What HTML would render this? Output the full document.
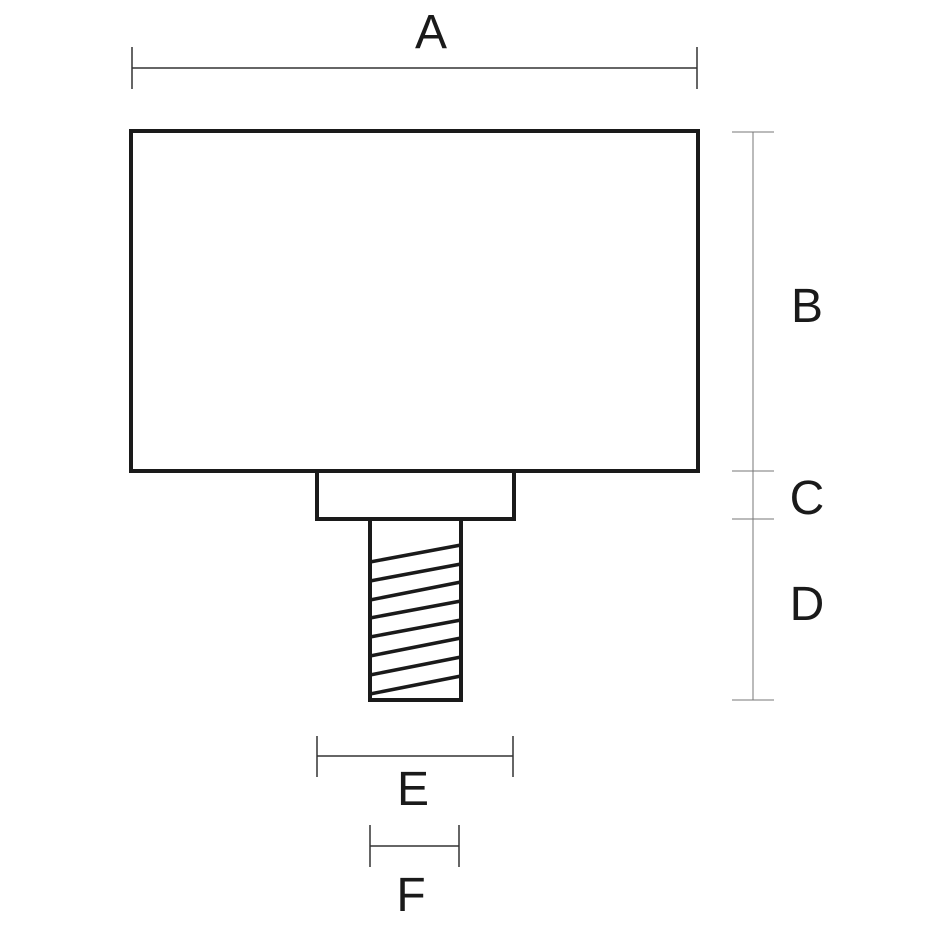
<!DOCTYPE html>
<html><head><style>html,body{margin:0;padding:0;background:#fff;}svg{display:block}</style></head>
<body>
<svg width="925" height="933" viewBox="0 0 925 933" xmlns="http://www.w3.org/2000/svg">
<g fill="none" stroke="#1a1a1a">
<rect x="131" y="131" width="567" height="340" stroke-width="4"/>
<rect x="317" y="471" width="197" height="48" stroke-width="4"/>
<rect x="370" y="519" width="91" height="181" stroke-width="4"/>
<g stroke-width="3.5">
<line x1="370" y1="562" x2="461" y2="545"/>
<line x1="370" y1="581" x2="461" y2="564"/>
<line x1="370" y1="600" x2="461" y2="582"/>
<line x1="370" y1="618" x2="461" y2="601"/>
<line x1="370" y1="637" x2="461" y2="620"/>
<line x1="370" y1="656" x2="461" y2="638"/>
<line x1="370" y1="675" x2="461" y2="657"/>
<line x1="370" y1="694" x2="461" y2="676"/>
</g>
<g stroke-width="1.5" stroke="#333">
<line x1="132" y1="68" x2="697" y2="68"/>
<line x1="132" y1="47" x2="132" y2="89"/>
<line x1="697" y1="47" x2="697" y2="89"/>
<line x1="317" y1="756" x2="513" y2="756"/>
<line x1="317" y1="736" x2="317" y2="777"/>
<line x1="513" y1="736" x2="513" y2="777"/>
<line x1="370" y1="846" x2="459" y2="846"/>
<line x1="370" y1="825" x2="370" y2="867"/>
<line x1="459" y1="825" x2="459" y2="867"/>
</g>
<g stroke-width="1" stroke="#777">
<line x1="753" y1="132" x2="753" y2="700"/>
<line x1="732" y1="132" x2="774" y2="132"/>
<line x1="732" y1="471" x2="774" y2="471"/>
<line x1="732" y1="519" x2="774" y2="519"/>
<line x1="732" y1="700" x2="774" y2="700"/>
</g>
</g>
<g font-family="Liberation Sans, sans-serif" font-size="48" fill="#1a1a1a" text-anchor="middle">
<text x="431" y="48">A</text>
<text x="807" y="322">B</text>
<text x="807" y="514">C</text>
<text x="807" y="620">D</text>
<text x="413" y="805">E</text>
<text x="411" y="911">F</text>
</g>
</svg>
</body></html>
